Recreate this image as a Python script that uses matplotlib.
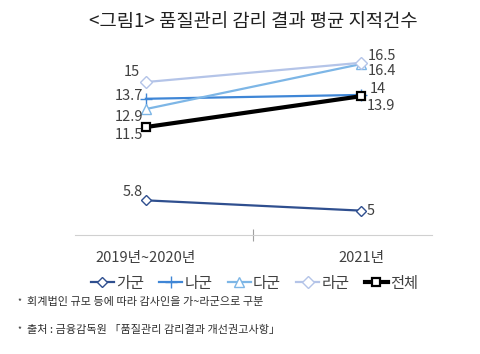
import matplotlib
matplotlib.use("Agg")
import matplotlib.pyplot as plt

plt.rcParams['font.family'] = ['Noto Sans CJK KR', 'DejaVu Sans']

categories = ['2019년~2020년', '2021년']
series_names = ['가군', '나군', '다군', '라군', '전체']
ga = [5.8, 5.0]
na = [13.7, 14.0]
da = [12.9, 16.4]
ra = [15.0, 16.5]
total = [11.5, 13.9]
title = '<그림1> 품질관리 감리 결과 평균 지적건수'
notes = ['회계법인 규모 등에 따라 감사인을 가~라군으로 구분',
         '출처 : 금융감독원 「품질관리 감리결과 개선권고사항」']

fig = plt.figure(figsize=(4.8, 3.54), dpi=100)
ax = fig.add_axes([0.156, 0.336, 0.744, 0.523])
x = [0, 1]

styles = [
    dict(color='#2F4F8F', marker='D', ms=5, lw=1.6, mfc='white', mec='#2F4F8F', mew=1.0),
    dict(color='#3F86D6', marker='+', ms=9, lw=1.6, mec='#3F86D6', mew=1.0),
    dict(color='#7DB6E6', marker='^', ms=7, lw=1.6, mfc='white', mec='#7DB6E6', mew=1.0),
    dict(color='#B4C4E8', marker='D', ms=6, lw=1.6, mfc='white', mec='#B4C4E8', mew=1.0),
    dict(color='black', marker='s', ms=6, lw=3.0, mfc='white', mec='black', mew=1.6),
]
data = [ga, na, da, ra, total]
handles = []
for name, vals, st in zip(series_names, data, styles):
    h, = ax.plot(x, vals, label=name, **st, zorder=3 if name == '전체' else 2)
    handles.append(h)

lab_col = '#404040'
fs = 10.5
# label offsets in points
left_off = {'가군': (-2, 6), '나군': (-2, 2), '다군': (-2, -6), '라군': (-4, 7), '전체': (-2, -6)}
right_off = {'가군': (4, 0), '나군': (6, 4), '다군': (5, -5), '라군': (5, 5), '전체': (4, -7)}
for name, vals in zip(series_names, data):
    ax.annotate(f'{vals[0]:g}', (x[0], vals[0]), xytext=left_off[name], textcoords='offset points',
                ha='right', va='center', fontsize=fs, color=lab_col)
    ax.annotate(f'{vals[1]:g}', (x[1], vals[1]), xytext=right_off[name], textcoords='offset points',
                ha='left', va='center', fontsize=fs, color=lab_col)

ax.set_xlim(-0.33, 1.33)
ax.set_ylim(3.1, 17.5)
for s in ['top', 'right', 'left']:
    ax.spines[s].set_visible(False)
ax.spines['bottom'].set_color('#D0D0D0')
ax.set_yticks([])
ax.set_xticks([0.5])
ax.set_xticklabels([''])
ax.tick_params(axis='x', length=8, color='#A0A0A0', direction='inout')
for xi, c in zip(x, categories):
    ax.text(xi, -0.125, c, transform=ax.get_xaxis_transform(), ha='center', va='center',
            fontsize=10.5, color=lab_col)

fig.text(0.527, 0.94, title, ha='center', va='center', fontsize=13.5, color='#202020',
         fontweight='medium')

leg = fig.legend(handles=handles, loc='center', bbox_to_anchor=(0.53, 0.2), ncol=5,
                 frameon=False, fontsize=11, handlelength=1.5, handletextpad=0.15,
                 columnspacing=1.0, labelcolor=lab_col)

for i, n in enumerate(notes):
    yy = 0.147 - i * 0.078
    fig.text(0.036, yy, '*', ha='left', va='center', fontsize=6, color='#303030')
    fig.text(0.056, yy, n, ha='left', va='center', fontsize=8, color='#303030')

fig.savefig('out.png', dpi=100, facecolor='white')
